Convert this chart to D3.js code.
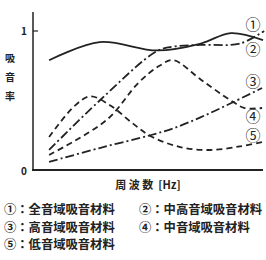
<!DOCTYPE html>
<html>
<head>
<meta charset="utf-8">
<script src="https://cdn.jsdelivr.net/npm/d3@7"></script>
<style>
  body { margin: 0; background: #fff; }
  text { font-family: "Noto Sans CJK JP", "Noto Sans", sans-serif; fill: #222; }
</style>
</head>
<body>
<svg id="chart" width="266" height="260"></svg>
<script>
// frequency position (0..100 along the axis) and absorption ratio
var freqAll = [7, 29, 54, 73, 86, 100]
var valAll = [0.79, 0.92, 0.86, 0.91, 0.985, 0.935]

var freqMidHigh = [7, 29, 54, 62, 73, 90, 100.5]
var valMidHigh = [0.144, 0.50, 0.856, 0.89, 0.90, 0.91, 1.0]

var freqHigh = [7, 29, 51, 61, 73, 86, 99.6]
var valHigh = [0.058, 0.158, 0.25, 0.30, 0.38, 0.48, 0.59]

var freqMid = [7, 32, 46, 55, 61, 73, 86, 92, 99.6]
var valMid = [0.108, 0.36, 0.63, 0.75, 0.79, 0.65, 0.50, 0.446, 0.446]

var freqLow = [7, 18, 25, 34, 43, 51, 64, 77, 90, 99.6]
var valLow = [0.237, 0.46, 0.53, 0.46, 0.34, 0.245, 0.165, 0.144, 0.17, 0.2]

var seriesMarks = ["①", "②", "③", "④", "⑤"]
var legendItems = ["①：全音域吸音材料", "②：中高音域吸音材料", "③：高音域吸音材料", "④：中音域吸音材料", "⑤：低音域吸音材料"]

var svg = d3.select("#chart")

var x = d3.scaleLinear().domain([0, 100]).range([33, 263])
var y = d3.scaleLinear().domain([0, 1]).range([170, 31])

var line = d3.line()
    .x(function (d) { return x(d[0]) })
    .y(function (d) { return y(d[1]) })
    .curve(d3.curveCatmullRom)

function pairs(xs, ys) {
    return xs.map(function (v, i) { return [v, ys[i]] })
}

var series = [
    { pts: pairs(freqAll, valAll), dash: null },
    { pts: pairs(freqMidHigh, valMidHigh), dash: "9,3,2,3" },
    { pts: pairs(freqHigh, valHigh), dash: "9,3,2,3" },
    { pts: pairs(freqMid, valMid), dash: "6,4" },
    { pts: pairs(freqLow, valLow), dash: "6,4" }
]

// axes
svg.append("line").attr("x1", x(0)).attr("x2", x(0))
    .attr("y1", 12).attr("y2", y(0))
    .attr("stroke", "#222").attr("stroke-width", 1.5)
svg.append("line").attr("x1", x(0) - 1).attr("x2", x(100))
    .attr("y1", y(0)).attr("y2", y(0))
    .attr("stroke", "#222").attr("stroke-width", 1.8)
svg.append("line").attr("x1", x(0)).attr("x2", x(0) + 5)
    .attr("y1", y(1)).attr("y2", y(1))
    .attr("stroke", "#222").attr("stroke-width", 1.2)

svg.append("text").attr("x", 24).attr("y", y(1) + 4)
    .attr("text-anchor", "middle").style("font-size", "10px").style("font-weight", "bold").text("1")
svg.append("text").attr("x", 24).attr("y", y(0) + 5)
    .attr("text-anchor", "middle").style("font-size", "10px").style("font-weight", "bold").text("0")

// y title, stacked characters
var yTitle = ["吸", "音", "率"]
svg.selectAll(".ytitle").data(yTitle).enter().append("text")
    .attr("class", "ytitle")
    .attr("x", 10)
    .attr("y", function (d, i) { return 62 + i * 19 })
    .attr("text-anchor", "middle")
    .style("font-size", "10px").style("font-weight", "bold")
    .text(function (d) { return d })

svg.append("text").attr("x", 148).attr("y", 189)
    .attr("text-anchor", "middle").style("font-size", "11px").style("font-weight", "bold")
    .style("white-space", "pre")
    .text("周 波 数  [Hz]")

// curves
svg.selectAll(".curve").data(series).enter().append("path")
    .attr("class", "curve")
    .attr("d", function (d) { return line(d.pts) })
    .attr("fill", "none")
    .attr("stroke", "#222")
    .attr("stroke-width", 1.8)
    .attr("stroke-dasharray", function (d) { return d.dash })

// circled numbers at right
var markY = [25, 50, 82, 117, 136]
svg.selectAll(".mark").data(seriesMarks).enter().append("text")
    .attr("class", "mark")
    .attr("x", 253)
    .attr("y", function (d, i) { return markY[i] + 5 })
    .attr("text-anchor", "middle")
    .style("font-size", "15px")
    .text(function (d) { return d })

// legend
var legendPos = [[4, 214], [139, 214], [4, 232], [139, 232], [4, 249]]
svg.selectAll(".legend").data(legendItems).enter().append("text")
    .attr("class", "legend")
    .attr("x", function (d, i) { return legendPos[i][0] })
    .attr("y", function (d, i) { return legendPos[i][1] })
    .style("font-size", "12.3px").style("font-weight", "bold")
    .text(function (d) { return d })
</script>
</body>
</html>
